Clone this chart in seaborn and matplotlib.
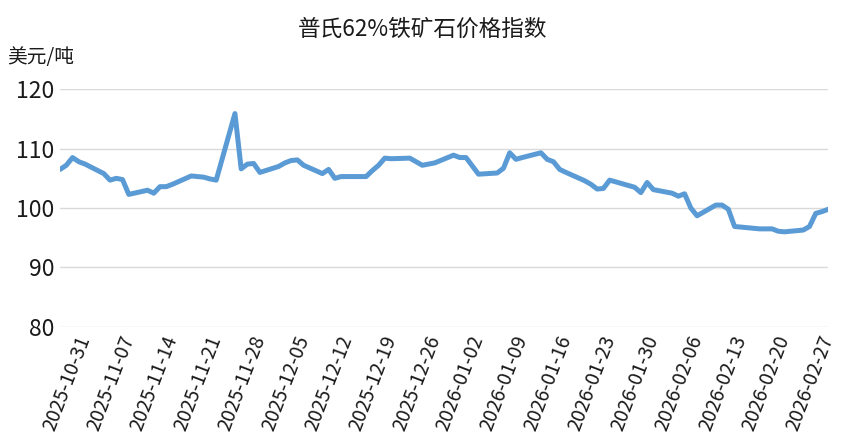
import pandas as pd
import seaborn as sns
import matplotlib.pyplot as plt
import matplotlib.dates as mdates

# Platts 62% iron ore index, USD per tonne
dates = [
    "2025-10-27", "2025-10-28", "2025-10-29", "2025-10-30", "2025-10-31",
    "2025-11-03", "2025-11-04", "2025-11-05", "2025-11-06", "2025-11-07",
    "2025-11-10", "2025-11-11", "2025-11-12", "2025-11-13", "2025-11-14",
    "2025-11-17", "2025-11-18", "2025-11-19", "2025-11-20", "2025-11-21",
    "2025-11-24", "2025-11-25", "2025-11-26", "2025-11-27", "2025-11-28",
    "2025-12-01", "2025-12-02", "2025-12-03", "2025-12-04", "2025-12-05",
    "2025-12-08", "2025-12-09", "2025-12-10", "2025-12-11", "2025-12-12",
    "2025-12-15", "2025-12-16", "2025-12-17", "2025-12-18", "2025-12-19",
    "2025-12-22", "2025-12-23", "2025-12-24", "2025-12-26",
    "2025-12-29", "2025-12-30", "2025-12-31", "2026-01-02",
    "2026-01-05", "2026-01-06", "2026-01-07", "2026-01-08", "2026-01-09",
    "2026-01-12", "2026-01-13", "2026-01-14", "2026-01-15", "2026-01-16",
    "2026-01-19", "2026-01-20", "2026-01-21", "2026-01-22", "2026-01-23",
    "2026-01-26", "2026-01-27", "2026-01-28", "2026-01-29", "2026-01-30",
    "2026-02-02", "2026-02-03", "2026-02-04", "2026-02-05", "2026-02-06",
    "2026-02-09", "2026-02-10", "2026-02-11", "2026-02-12", "2026-02-13",
    "2026-02-16", "2026-02-17", "2026-02-18", "2026-02-19", "2026-02-20",
    "2026-02-23", "2026-02-24", "2026-02-25", "2026-02-26", "2026-02-27",
]
prices = [
    106.5, 107.2, 108.5, 107.8, 107.4,
    105.8, 104.7, 105.0, 104.8, 102.3,
    103.0, 102.5, 103.6, 103.6, 104.0,
    105.4, 105.3, 105.2, 104.9, 104.7,
    115.9, 106.6, 107.4, 107.5, 106.0,
    107.0, 107.6, 108.0, 108.1, 107.2,
    105.8, 106.5, 105.0, 105.3, 105.3,
    105.3, 106.3, 107.2, 108.4, 108.3,
    108.4, 107.8, 107.2, 107.6,
    108.9, 108.5, 108.5, 105.7,
    105.9, 106.7, 109.3, 108.2, 108.5,
    109.3, 108.2, 107.8, 106.5, 106.0,
    104.6, 104.0, 103.2, 103.3, 104.7,
    103.8, 103.5, 102.6, 104.3, 103.1,
    102.5, 102.0, 102.4, 100.0, 98.7,
    100.5, 100.5, 99.8, 96.9, 96.8,
    96.5, 96.5, 96.5, 96.1, 96.0,
    96.3, 96.9, 99.1, 99.4, 99.8,
]
tick_dates = pd.date_range("2025-10-31", "2026-02-27", freq="7D")
y_ticks = [80, 90, 100, 110, 120]

df = pd.DataFrame({"date": pd.to_datetime(dates), "price": prices})

sns.set_style("white")
plt.rcParams["font.family"] = ["Noto Sans CJK SC", "DejaVu Sans"]

fig = plt.figure(figsize=(8.46, 4.46), dpi=100)
ax = fig.add_axes([0.071, 0.267, 0.908, 0.533])

sns.lineplot(data=df, x="date", y="price", ax=ax, color="#5B9BD5", linewidth=3.6)

ax.set_ylim(80, 120)
ax.set_yticks(y_ticks)
ax.set_xlim(pd.Timestamp("2025-10-27"), pd.Timestamp("2026-02-27"))
ax.set_xticks(tick_dates)
ax.xaxis.set_major_formatter(mdates.DateFormatter("%Y-%m-%d"))
plt.setp(ax.get_xticklabels(), rotation=69, ha="right", va="center",
         rotation_mode="anchor")

ax.grid(axis="y", color="#d9d9d9", linewidth=1)
ax.set_axisbelow(True)
for s in ax.spines.values():
    s.set_visible(False)
ax.tick_params(axis="both", color="#bfbfbf", length=3, width=1,
               labelcolor="#1a1a1a")
ax.tick_params(axis="y", labelsize=16.5, pad=1)
ax.tick_params(axis="x", labelsize=14, pad=4)

ax.set_xlabel("")
ax.set_ylabel("")
fig.text(0.5, 0.935, "普氏62%铁矿石价格指数", ha="center", va="center",
         fontsize=16.3, color="#1a1a1a")
fig.text(0.008, 0.87, "美元/吨", ha="left", va="center", fontsize=14.2,
         color="#1a1a1a")

fig.savefig("out.png", dpi=100)
